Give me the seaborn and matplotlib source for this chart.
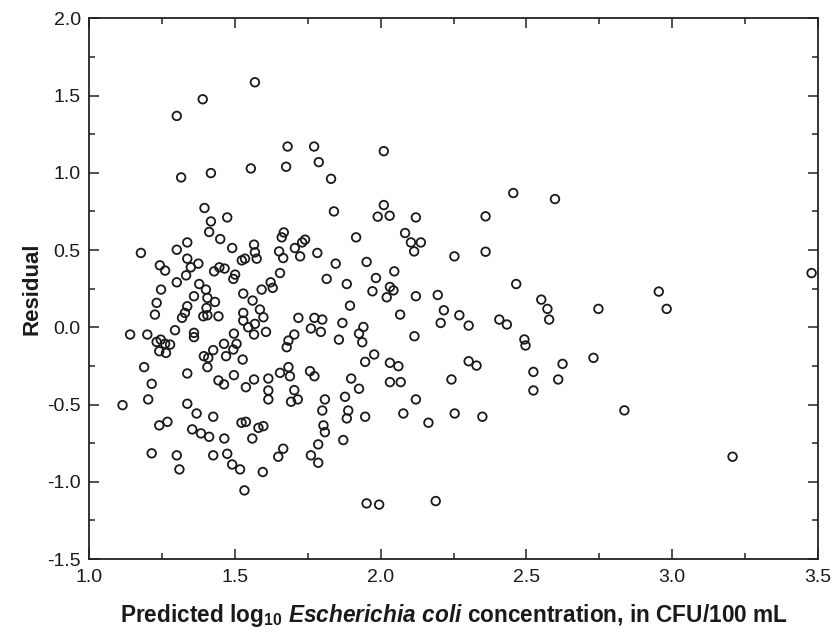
import matplotlib
matplotlib.use("Agg")
import matplotlib.pyplot as plt
import seaborn as sns
import pandas as pd
from matplotlib.ticker import MultipleLocator, FormatStrFormatter

# Predicted log10 E. coli concentration (x) and residuals (y)
predicted = [
    1.569, 1.390, 1.301, 1.316, 1.418, 1.555, 1.396, 1.418, 1.474, 1.412, 1.450, 1.337, 1.301, 1.491, 1.566, 1.178, 1.569,
    1.681, 1.772, 2.011, 1.676, 1.788, 1.830, 1.840, 2.011, 1.990, 2.031, 2.121, 1.916, 1.668, 1.661, 1.741, 1.731, 1.706,
    1.652, 1.783, 2.084, 2.104, 2.138, 2.115,
    1.337, 1.243, 1.261, 1.349, 1.375, 1.333, 1.429, 1.447, 1.465, 1.501, 1.495, 1.524, 1.535, 1.575, 1.301, 1.247, 1.378,
    1.401, 1.406, 1.432, 1.360, 1.337, 1.329, 1.319, 1.403, 1.392, 1.406, 1.444, 1.232, 1.226, 1.529, 1.561, 1.592, 1.623,
    1.630, 1.529, 1.586, 1.598, 1.529, 1.546, 1.569, 1.566, 1.607, 1.295, 1.360, 1.360, 1.141, 1.200, 1.232, 1.246, 1.261,
    1.278, 1.241, 1.264, 1.497, 1.463, 1.506, 1.495, 1.426, 1.394, 1.409, 1.470, 1.406, 1.527, 1.189, 1.337, 1.215, 1.444,
    1.463, 1.497, 1.538, 1.566, 1.615, 1.615, 1.615, 1.203, 1.115, 1.337,
    1.666, 1.724, 1.655, 1.846, 1.952, 2.047, 1.984, 2.032, 2.044, 1.972, 2.021, 2.121, 1.815, 1.884, 1.895, 2.067, 1.718,
    1.773, 1.800, 1.761, 1.795, 1.869, 1.941, 1.926, 1.937, 1.857, 2.116, 1.704, 1.684, 1.678, 1.978, 1.947, 2.032, 2.061,
    1.655, 1.684, 1.689, 1.758, 1.773, 1.899, 1.926, 2.032, 2.069, 1.704, 1.693, 1.716, 1.809, 1.878, 2.121,
    1.369, 1.426, 1.241, 1.269, 1.354, 1.384, 1.412, 1.464, 1.523, 1.538, 1.581, 1.598, 1.560, 1.215, 1.301, 1.310, 1.426,
    1.474, 1.491, 1.518, 1.596, 1.533,
    1.800, 1.889, 1.884, 1.947, 2.078, 2.164, 1.804, 1.809, 1.872, 1.786, 1.666, 1.649, 1.761, 1.786, 1.952, 1.995, 2.189,
    2.455, 2.598, 2.360, 2.253, 2.360, 2.465, 2.196, 2.217, 2.270, 2.206, 2.302, 2.407, 2.433, 2.551, 2.572, 2.578, 2.747,
    2.493, 2.497, 2.302, 2.329, 2.243, 2.524, 2.624, 2.609, 2.730, 2.524, 2.254, 2.349, 2.836,
    2.954, 2.981, 3.478, 3.207,
]
residual = [
    1.586, 1.476, 1.368, 0.970, 0.998, 1.028, 0.772, 0.685, 0.711, 0.617, 0.571, 0.549, 0.502, 0.513, 0.535, 0.481, 0.485,
    1.170, 1.170, 1.140, 1.039, 1.069, 0.961, 0.750, 0.791, 0.716, 0.722, 0.711, 0.582, 0.614, 0.582, 0.567, 0.549, 0.513,
    0.491, 0.481, 0.610, 0.549, 0.549, 0.491,
    0.444, 0.401, 0.367, 0.388, 0.412, 0.336, 0.362, 0.388, 0.380, 0.341, 0.313, 0.433, 0.444, 0.444, 0.291, 0.244, 0.280,
    0.244, 0.190, 0.164, 0.201, 0.136, 0.093, 0.061, 0.125, 0.071, 0.078, 0.071, 0.158, 0.082, 0.218, 0.173, 0.244, 0.291,
    0.255, 0.093, 0.115, 0.065, 0.043, 0.000, 0.022, -0.047, -0.030, -0.019, -0.036, -0.064, -0.047, -0.047, -0.095, -0.080,
    -0.107, -0.112, -0.155, -0.166, -0.041, -0.107, -0.107, -0.144, -0.148, -0.187, -0.198, -0.187, -0.258, -0.209, -0.258,
    -0.299, -0.366, -0.344, -0.370, -0.310, -0.388, -0.338, -0.332, -0.409, -0.467, -0.467, -0.504, -0.495,
    0.448, 0.459, 0.351, 0.412, 0.423, 0.362, 0.319, 0.261, 0.239, 0.233, 0.194, 0.201, 0.313, 0.280, 0.140, 0.082, 0.061,
    0.061, 0.050, -0.008, -0.030, 0.028, 0.002, -0.041, -0.097, -0.080, -0.058, -0.047, -0.086, -0.129, -0.176, -0.224,
    -0.230, -0.252, -0.295, -0.258, -0.317, -0.284, -0.317, -0.332, -0.398, -0.355, -0.355, -0.407, -0.482, -0.467, -0.467,
    -0.450, -0.467,
    -0.558, -0.579, -0.635, -0.612, -0.661, -0.687, -0.709, -0.720, -0.618, -0.612, -0.651, -0.640, -0.720, -0.816, -0.829,
    -0.920, -0.829, -0.819, -0.888, -0.920, -0.937, -1.056,
    -0.539, -0.539, -0.590, -0.579, -0.558, -0.618, -0.635, -0.679, -0.730, -0.758, -0.786, -0.838, -0.829, -0.877, -1.140,
    -1.148, -1.125,
    0.869, 0.830, 0.718, 0.459, 0.489, 0.280, 0.209, 0.110, 0.078, 0.028, 0.011, 0.050, 0.018, 0.179, 0.119, 0.050, 0.119,
    -0.079, -0.118, -0.220, -0.248, -0.338, -0.289, -0.237, -0.338, -0.198, -0.409, -0.558, -0.579, -0.538,
    0.231, 0.119, 0.351, -0.838,
]

x_ticks = [1.0, 1.5, 2.0, 2.5, 3.0, 3.5]
y_ticks = [-1.5, -1.0, -0.5, 0.0, 0.5, 1.0, 1.5, 2.0]

df = pd.DataFrame({"predicted": predicted, "residual": residual})

sns.set_style("ticks")
plt.rcParams["font.family"] = ["Liberation Sans Narrow", "Liberation Sans", "DejaVu Sans"]
plt.rcParams["mathtext.fontset"] = "custom"
plt.rcParams["mathtext.rm"] = "Liberation Sans:bold"
plt.rcParams["mathtext.bf"] = "Liberation Sans:bold"
plt.rcParams["mathtext.it"] = "Liberation Sans:bold:italic"

fig = plt.figure(figsize=(8.35, 6.39), dpi=100)
ax = fig.add_axes([89 / 835, 1 - 559 / 639, (818 - 89) / 835, (559 - 18.3) / 639])

sns.scatterplot(data=df, x="predicted", y="residual", ax=ax, marker="o", s=38,
                facecolors="none", edgecolor="#1a1a1a", linewidth=1.3, zorder=3)

ax.set_xlim(1.0, 3.5)
ax.set_ylim(-1.5, 2.0)
ax.set_xticks(x_ticks)
ax.set_yticks(y_ticks)
ax.xaxis.set_minor_locator(MultipleLocator(0.25))
ax.yaxis.set_minor_locator(MultipleLocator(0.25))
ax.xaxis.set_major_formatter(FormatStrFormatter("%.1f"))
ax.yaxis.set_major_formatter(FormatStrFormatter("%.1f"))
ax.tick_params(which="both", direction="in", top=True, right=True, colors="#222222",
               labelcolor="#1a1a1a", labelsize=14, width=1.1)
ax.tick_params(which="major", length=7)
ax.tick_params(which="minor", length=4)
ax.tick_params(axis="x", which="major", pad=7)
ax.tick_params(axis="y", which="major", pad=6)
for sp in ax.spines.values():
    sp.set_visible(True)
    sp.set_linewidth(1.3)
    sp.set_color("#222222")

ax.set_xlabel(r"Predicted log$_{10}$ $\mathit{Escherichia\ coli}$ concentration, in CFU/100 mL",
              family="Liberation Sans", fontweight="bold", fontsize=16.3, color="#1a1a1a", labelpad=12)
ax.set_ylabel("Residual", family="Liberation Sans", fontweight="bold", fontsize=16,
              color="#1a1a1a", labelpad=3)

fig.savefig("out.png", dpi=100)
